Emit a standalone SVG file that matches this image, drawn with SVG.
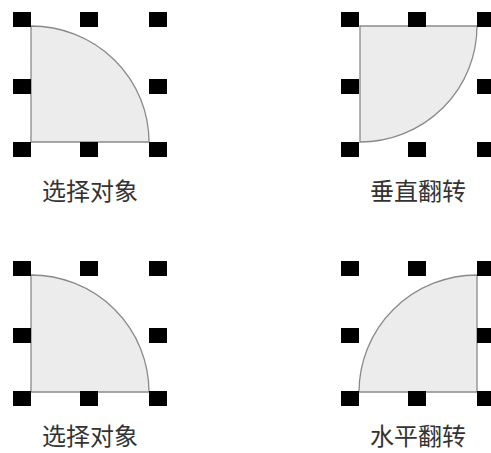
<svg xmlns="http://www.w3.org/2000/svg" width="491" height="453" viewBox="0 0 491 453">
<defs>
<style>
.shape{fill:#ececec;stroke:#8a8a8a;stroke-width:1.3}
.h{fill:#000}
.lbl{font-family:"Noto Sans CJK SC","Noto Sans",sans-serif;font-size:24px;fill:#333;text-anchor:middle}
</style>
<g id="handles">
<rect class="h" x="-18" y="-14" width="18" height="15"/>
<rect class="h" x="49" y="-14" width="18" height="15"/>
<rect class="h" x="118" y="-14" width="18" height="15"/>
<rect class="h" x="-18" y="53" width="18" height="15"/>
<rect class="h" x="118" y="53" width="18" height="15"/>
<rect class="h" x="-18" y="116" width="18" height="15"/>
<rect class="h" x="49" y="116" width="18" height="15"/>
<rect class="h" x="118" y="116" width="18" height="15"/>
</g>
</defs>
<rect width="491" height="453" fill="#fff"/>
<g id="select1">
<path class="shape" d="M31,26 A118,116 0 0 1 149,142 L31,142 Z"/>
<use href="#handles" x="31" y="26"/>
<text class="lbl" x="90" y="200">选择对象</text>
</g>
<g id="vflip">
<path class="shape" d="M360,26 L477,26 A117,116 0 0 1 360,142 Z"/>
<use href="#handles" x="359" y="26"/>
<text class="lbl" x="418" y="200">垂直翻转</text>
</g>
<g id="select2">
<path class="shape" d="M31,275 A118,117 0 0 1 149,392 L31,392 Z"/>
<use href="#handles" x="31" y="275"/>
<text class="lbl" x="90" y="445">选择对象</text>
</g>
<g id="hflip">
<path class="shape" d="M359,392 A118,117 0 0 1 477,275 L477,392 Z"/>
<use href="#handles" x="359" y="275"/>
<text class="lbl" x="418" y="445">水平翻转</text>
</g>
</svg>
